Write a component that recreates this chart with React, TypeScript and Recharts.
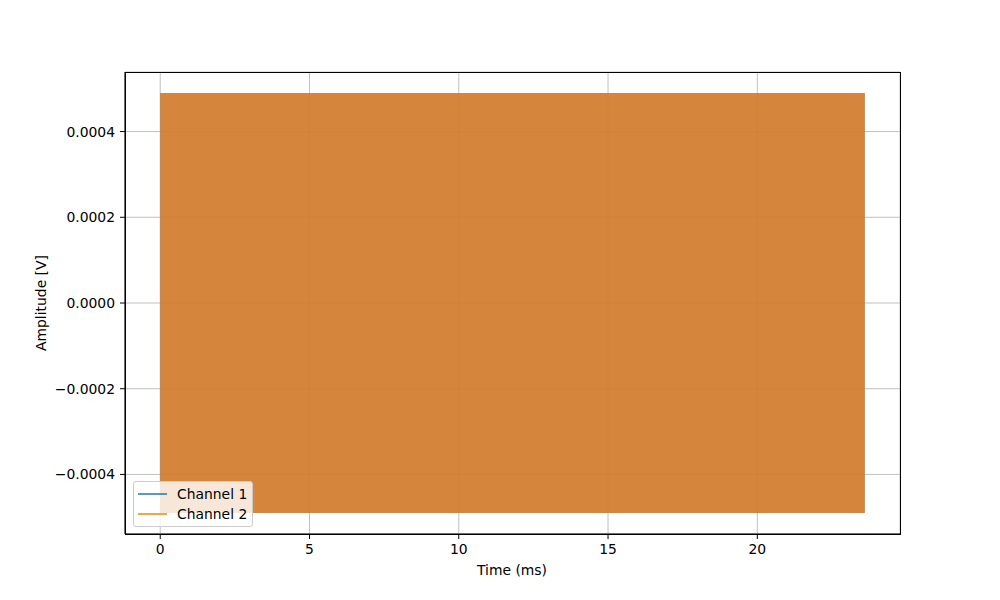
import React from 'react';
import { ComposedChart, Area, XAxis, YAxis, CartesianGrid } from 'recharts';

// envelope of both channels (signal too dense to resolve)
const timeMs = [0, 23.6];
const ch1Min = [-0.00049, -0.00049];
const ch1Max = [0.00049, 0.00049];
const ch2Min = [-0.00049, -0.00049];
const ch2Max = [0.00049, 0.00049];

const xTicks = [0, 5, 10, 15, 20];
const yTicks = [-0.0004, -0.0002, 0, 0.0002, 0.0004];

const BLUE = '#1f77b4';
const ORANGE = '#ff7f0e';
const FONT = '"DejaVu Sans", sans-serif';

const series = [
  { key: 'ch1', name: 'Channel 1', color: BLUE },
  { key: 'ch2', name: 'Channel 2', color: ORANGE },
];

const data = timeMs.map((t, i) => ({
  t,
  ch1: [ch1Min[i], ch1Max[i]],
  ch2: [ch2Min[i], ch2Max[i]],
}));

const fmtY = (v: number) => v.toFixed(4).replace('-', '\u2212');

const LegendBox = () => (
  <div
    style={{
      position: 'absolute',
      left: 133,
      top: 481,
      width: 120,
      height: 46,
      background: 'rgba(255,255,255,0.8)',
      border: '1px solid #cccccc',
      borderRadius: 3,
      boxSizing: 'border-box',
      padding: '2px 4px',
      fontFamily: FONT,
      fontSize: 13.9,
      color: '#000',
      whiteSpace: 'nowrap',
    }}
  >
    {series.map((it) => (
      <div key={it.name} style={{ display: 'flex', alignItems: 'center', height: 20 }}>
        <div style={{ width: 29, height: 2, background: it.color, opacity: 0.75, marginRight: 10 }} />
        <span>{it.name}</span>
      </div>
    ))}
  </div>
);

export default function App() {
  return (
    <div style={{ position: 'absolute', left: 0, top: 0, width: 1000, height: 600, background: '#fff' }}>
      <ComposedChart
        width={1000}
        height={600}
        data={data}
        margin={{ top: 72, right: 100, left: 30, bottom: 26 }}
      >
        <CartesianGrid stroke="#b0b0b0" strokeWidth={0.8} />
        <XAxis
          dataKey="t"
          type="number"
          domain={[-1.18, 24.78]}
          ticks={xTicks}
          height={40}
          tickSize={5}
          tickMargin={5}
          axisLine={{ stroke: '#000', strokeWidth: 1 }}
          tickLine={{ stroke: '#000' }}
          tick={{ fill: '#000', fontFamily: FONT, fontSize: 13.9 }}
          allowDataOverflow
        />
        <YAxis
          type="number"
          domain={[-0.000539, 0.000539]}
          ticks={yTicks}
          width={95}
          tickSize={5}
          tickMargin={5}
          tickFormatter={fmtY}
          axisLine={{ stroke: '#000', strokeWidth: 1 }}
          tickLine={{ stroke: '#000' }}
          tick={{ fill: '#000', fontFamily: FONT, fontSize: 13.9 }}
          allowDataOverflow
        />
        {series.map((s) => (
          <Area
            key={s.key}
            dataKey={s.key}
            name={s.name}
            type="linear"
            fill={s.color}
            fillOpacity={0.75}
            stroke="none"
            isAnimationActive={false}
          />
        ))}
      </ComposedChart>
      {/* axes frame */}
      <div
        style={{
          position: 'absolute',
          left: 125,
          top: 72,
          width: 776,
          height: 463,
          border: '1px solid #000',
          boxSizing: 'border-box',
          pointerEvents: 'none',
        }}
      />
      <LegendBox />
      <div
        style={{
          position: 'absolute',
          left: 512,
          top: 570,
          transform: 'translate(-50%, -50%)',
          fontFamily: FONT,
          fontSize: 13.9,
          whiteSpace: 'nowrap',
        }}
      >
        Time (ms)
      </div>
      <div
        style={{
          position: 'absolute',
          left: 41,
          top: 303,
          transform: 'translate(-50%, -50%) rotate(-90deg)',
          fontFamily: FONT,
          fontSize: 13.9,
          whiteSpace: 'nowrap',
        }}
      >
        Amplitude [V]
      </div>
    </div>
  );
}
